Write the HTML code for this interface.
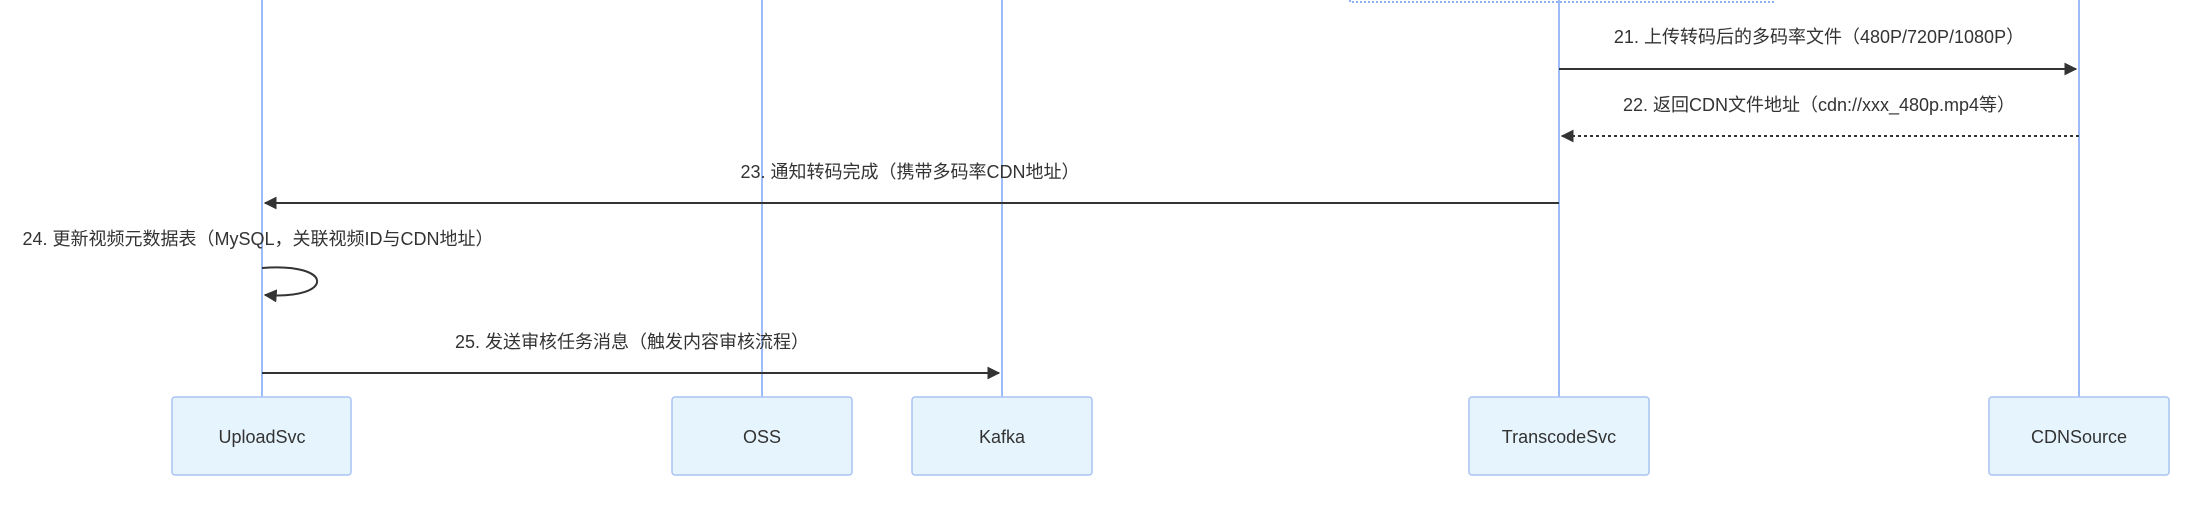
<!DOCTYPE html>
<html><head><meta charset="utf-8"><style>
html,body{margin:0;padding:0;background:#fff;}
svg text{font-family:"Liberation Sans","Noto Sans CJK SC",sans-serif;font-size:18px;fill:#333;}
</style></head><body>
<svg width="2190" height="509" viewBox="0 0 2190 509" xmlns="http://www.w3.org/2000/svg">
<defs>
<marker id="a" viewBox="0 0 10 10" refX="9" refY="5" markerWidth="6.5" markerHeight="6.5" orient="auto-start-reverse"><path d="M0,0 L10,5 L0,10 z" fill="#333"/></marker>
</defs>
<rect x="1350" y="-4" width="423" height="6" fill="none" stroke="#8fb0f5" stroke-width="2" stroke-dasharray="2,2"/>
<g stroke="#7fa6f5" stroke-width="1.5">
<line x1="262" y1="0" x2="262" y2="397"/>
<line x1="762" y1="0" x2="762" y2="397"/>
<line x1="1002" y1="0" x2="1002" y2="397"/>
<line x1="1559" y1="0" x2="1559" y2="397"/>
<line x1="2079" y1="0" x2="2079" y2="397"/>
</g>
<g fill="#e6f4fd" stroke="#a9c4f3" stroke-width="1.5">
<rect x="172" y="397" width="179" height="78" rx="3"/>
<rect x="672" y="397" width="180" height="78" rx="3"/>
<rect x="912" y="397" width="180" height="78" rx="3"/>
<rect x="1469" y="397" width="180" height="78" rx="3"/>
<rect x="1989" y="397" width="180" height="78" rx="3"/>
</g>
<g text-anchor="middle">
<text x="262" y="443">UploadSvc</text>
<text x="762" y="443">OSS</text>
<text x="1002" y="443">Kafka</text>
<text x="1559" y="443">TranscodeSvc</text>
<text x="2079" y="443">CDNSource</text>
<text x="1819" y="43">21. 上传转码后的多码率文件（480P/720P/1080P）</text>
<text x="1819" y="111">22. 返回CDN文件地址（cdn://xxx_480p.mp4等）</text>
<text x="910" y="178">23. 通知转码完成（携带多码率CDN地址）</text>
<text x="258" y="245">24. 更新视频元数据表（MySQL，关联视频ID与CDN地址）</text>
<text x="632" y="348">25. 发送审核任务消息（触发内容审核流程）</text>
</g>
<g stroke="#333" stroke-width="2" fill="none">
<line x1="1559" y1="69" x2="2076" y2="69" marker-end="url(#a)"/>
<line x1="2079" y1="136" x2="1562" y2="136" stroke-dasharray="3,3" marker-end="url(#a)"/>
<line x1="1559" y1="203" x2="265" y2="203" marker-end="url(#a)"/>
<path d="M262,268 C335,262 335,300 265,295" marker-end="url(#a)"/>
<line x1="262" y1="373" x2="999" y2="373" marker-end="url(#a)"/>
</g>
</svg>
</body></html>
